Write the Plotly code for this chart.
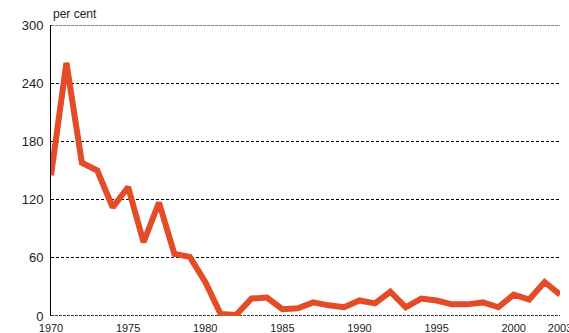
import plotly.graph_objects as go

years = list(range(1970, 2004))
values = [145, 261, 158, 150, 112, 133, 76, 117, 64, 61,
          35, 2, 1, 18, 19, 7, 8, 14, 11, 9,
          16, 13, 25, 9, 18, 16, 12, 12, 14, 9,
          22, 17, 35, 22]

x_ticks = [1970, 1975, 1980, 1985, 1990, 1995, 2000, 2003]
y_ticks = [0, 60, 120, 180, 240, 300]

fig = go.Figure()
fig.add_trace(go.Scatter(
    x=years, y=values, mode="lines",
    line=dict(color="#E44B27", width=6),
    hoverinfo="skip",
))

fig.update_layout(
    width=569, height=333,
    margin=dict(l=51, r=9, t=25, b=17),
    paper_bgcolor="white", plot_bgcolor="white",
    showlegend=False,
    font=dict(family="Liberation Sans, Arial, sans-serif", size=12, color="#222"),
    xaxis=dict(
        range=[1970, 2003], tickvals=x_ticks, ticktext=[str(t) for t in x_ticks],
        showgrid=False, zeroline=False, showline=False, ticks="",
        tickfont=dict(size=11), ticklabelstandoff=4,
        ticklabeloverflow="allow", automargin=False,
    ),
    yaxis=dict(
        range=[0, 300], tickvals=y_ticks,
        showgrid=True, gridcolor="black", griddash="3px,2px", gridwidth=1,
        zeroline=False,
        showline=True, linecolor="black", linewidth=1, ticks="",
        tickfont=dict(size=13), ticklabelstandoff=4, automargin=False,
    ),
    annotations=[dict(
        text="per cent", x=0, xref="paper", xanchor="left",
        y=1, yref="paper", yanchor="bottom", yshift=2,
        showarrow=False, font=dict(size=12),
    )],
)

# dashed rules along the bottom and top ticks, which sit on the plot edges
for level, width in ((y_ticks[0], 1.5), (y_ticks[-1], 1)):
    fig.add_shape(
        type="line", xref="paper", x0=0, x1=1, yref="y",
        y0=level, y1=level,
        line=dict(color="black", width=width, dash="3px,1px"), layer="below",
    )

fig.write_html("out.html")
